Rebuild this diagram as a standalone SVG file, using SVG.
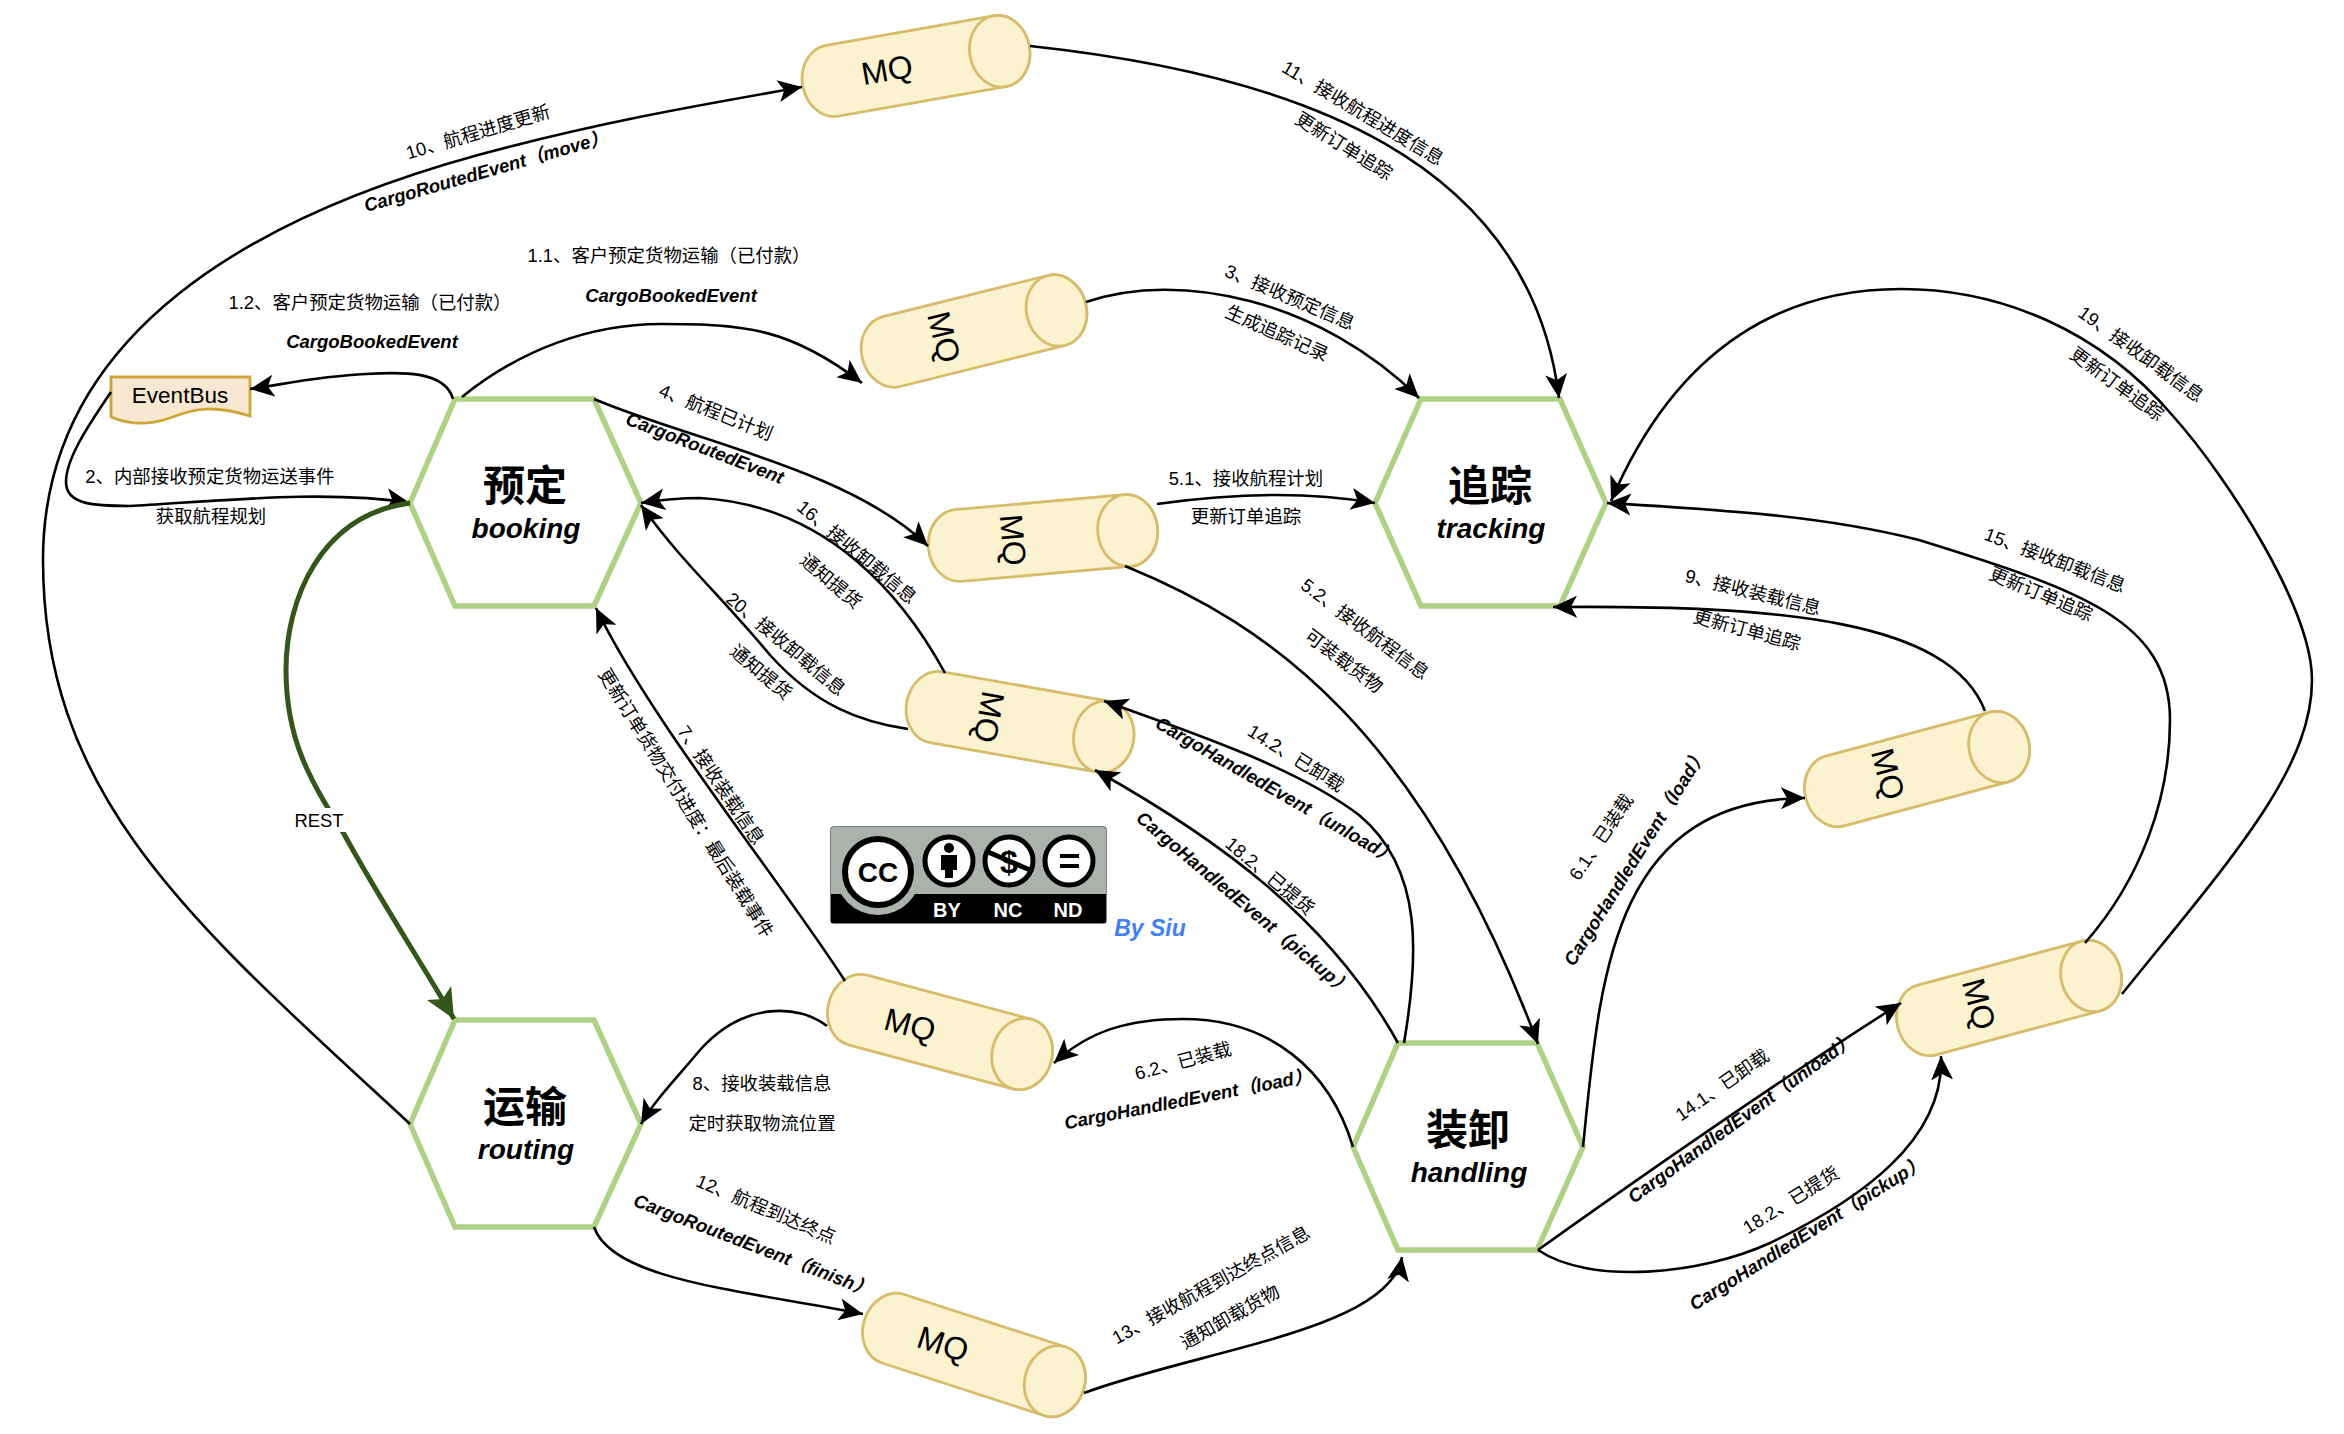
<svg xmlns="http://www.w3.org/2000/svg" width="2344" height="1434" viewBox="0 0 2344 1434">
<style>
text{font-family:"Liberation Sans","Noto Sans CJK SC",sans-serif;fill:#000;text-anchor:middle;dominant-baseline:central}
.lb{font-size:18.4px}
.ev{font-size:18.5px;font-weight:bold;font-style:italic}
.hex{fill:#fff;stroke:#AFD185;stroke-width:5.5;stroke-linejoin:miter}
.t1{font-size:42px;font-weight:bold;font-family:"Noto Sans CJK SC",sans-serif}
.t2{font-size:28px;font-weight:bold;font-style:italic;dominant-baseline:alphabetic}
.mq{font-size:32px}
.cyl{fill:#FBF2D0;stroke:#D6BC6B;stroke-width:2.8}
.c{fill:none;stroke:#000;stroke-width:2.6;marker-end:url(#ah)}
.g{fill:none;stroke:#34561A;stroke-width:5;marker-end:url(#ag)}
.w{font-size:20px;font-weight:bold;fill:#fff;dominant-baseline:alphabetic}
.ci{fill:#fff;stroke:#000;stroke-width:5}
</style>
<defs>
<marker id="ah" markerUnits="userSpaceOnUse" markerWidth="24" markerHeight="24" viewBox="0 0 24 24" refX="24" refY="12" orient="auto"><path d="M24,12 L0,23 L6,12 L0,1 Z" fill="#000"/></marker>
<marker id="ag" markerUnits="userSpaceOnUse" markerWidth="30" markerHeight="30" viewBox="0 0 30 30" refX="30" refY="15" orient="auto"><path d="M30,15 L0,29 L7,15 L0,1 Z" fill="#34561A"/></marker>
<g id="cylinder"><path class="cyl" d="M-85,-36 L85,-36 A30,36 0 0 1 85,36 L-85,36 A30,36 0 0 1 -85,-36 Z"/><ellipse class="cyl" cx="85" cy="0" rx="30" ry="36"/></g>
</defs>
<g id="booking"><polygon class="hex" points="410,503 455,399 594,399 641,503 594,606 455,606"/><text class="t1" x="525" y="482">预定</text><text class="t2" x="526" y="538">booking</text></g>
<g id="tracking"><polygon class="hex" points="1375,503 1421,399 1560,399 1606,503 1560,606 1421,606"/><text class="t1" x="1490" y="482">追踪</text><text class="t2" x="1491" y="538">tracking</text></g>
<g id="routing"><polygon class="hex" points="410,1124 455,1020 594,1020 641,1124 594,1227 455,1227"/><text class="t1" x="525" y="1103">运输</text><text class="t2" x="526" y="1159">routing</text></g>
<g id="handling"><polygon class="hex" points="1353,1147 1398,1043 1537,1043 1583,1147 1537,1250 1398,1250"/><text class="t1" x="1468" y="1126">装卸</text><text class="t2" x="1469" y="1182">handling</text></g>
<g id="eventbus"><path d="M111,377 H250 V416 C215,405 195,408 170,418 C150,425 130,425 111,417 Z" fill="#F8E8D2" stroke="#CFA536" stroke-width="2.8"/><text x="180" y="395" font-size="22.5">EventBus</text></g>
<g id="mq1"><use href="#cylinder" transform="translate(916,66) rotate(-10)"/><text class="mq" x="887" y="70" transform="rotate(-10 887 70)">MQ</text></g>
<g id="mq2"><use href="#cylinder" transform="translate(974,331) rotate(-14)"/><text class="mq" x="944" y="337" transform="rotate(76 944 337)">MQ</text></g>
<g id="mq3"><use href="#cylinder" transform="translate(1043,538) rotate(-5)"/><text class="mq" x="1013" y="540" transform="rotate(85 1013 540)">MQ</text></g>
<g id="mq4"><use href="#cylinder" transform="translate(1020,722) rotate(10)"/><text class="mq" x="989" y="717" transform="rotate(100 989 717)">MQ</text></g>
<g id="mq5"><use href="#cylinder" transform="translate(940,1032) rotate(15)"/><text class="mq" x="910" y="1025" transform="rotate(15 910 1025)">MQ</text></g>
<g id="mq6"><use href="#cylinder" transform="translate(974,1355) rotate(18)"/><text class="mq" x="943" y="1344" transform="rotate(18 943 1344)">MQ</text></g>
<g id="mq7"><use href="#cylinder" transform="translate(1917,769) rotate(-15)"/><text class="mq" x="1888" y="774" transform="rotate(75 1888 774)">MQ</text></g>
<g id="mq8"><use href="#cylinder" transform="translate(2009,998) rotate(-15)"/><text class="mq" x="1979" y="1004" transform="rotate(75 1979 1004)">MQ</text></g>
<g id="connectors">
<path class="c" d="M410,1124 C195,925 43,800 43,560 C43,330 260,215 478,155 C600,122 700,105 802,87"/>
<path class="c" d="M453,399 C445,370 400,372 366,374 C320,376 285,384 250,389"/>
<path class="c" d="M462,397 C520,350 590,324 661,324 C745,324 790,328 862,383"/>
<path class="c" d="M111,392 C85,430 66,460 66,482 C66,505 95,506 130,506 C230,500 330,490 410,503"/>
<path class="g" d="M410,503 C320,515 286,600 286,670 C286,740 310,780 344,834 C380,900 420,960 454,1019"/>
<path class="c" d="M594,399 C690,440 850,470 928,546"/>
<path class="c" d="M945,673 C905,600 830,505 700,498 C680,498 660,500 641,503"/>
<path class="c" d="M908,729 C860,722 815,705 770,655 C720,595 680,560 641,505"/>
<path class="c" d="M845,981 C780,880 650,720 596,608"/>
<path class="c" d="M827,1026 C800,1005 745,1000 700,1050 C675,1080 655,1100 641,1124"/>
<path class="c" d="M1353,1147 C1330,1070 1270,1019 1183,1019 C1130,1019 1090,1030 1054,1063"/>
<path class="c" d="M594,1227 C612,1280 740,1290 863,1314"/>
<path class="c" d="M1084,1393 C1200,1350 1390,1330 1402,1257"/>
<path class="c" d="M1030,46 C1300,75 1530,160 1559,398"/>
<path class="c" d="M1086,302 C1180,270 1320,300 1419,398"/>
<path class="c" d="M1157,504 C1220,495 1300,490 1375,503"/>
<path class="c" d="M1125,566 C1270,625 1420,730 1538,1044"/>
<path class="c" d="M1404,1043 C1418,960 1425,870 1359,815 C1300,770 1200,735 1104,701"/>
<path class="c" d="M1398,1043 C1330,920 1220,840 1095,770"/>
<path class="c" d="M1583,1147 C1600,980 1610,800 1805,798"/>
<path class="c" d="M1985,711 C1950,620 1780,605 1553,607"/>
<path class="c" d="M1538,1250 C1650,1170 1780,1080 1901,1003"/>
<path class="c" d="M1538,1250 C1590,1285 1700,1275 1770,1243 C1860,1200 1945,1140 1941,1056"/>
<path class="c" d="M2085,943 C2140,880 2170,800 2170,720 C2170,620 2080,590 1919,540 C1820,515 1720,510 1607,503"/>
<path class="c" d="M2122,994 C2230,860 2312,770 2312,680 C2312,610 2230,480 2173,416 C2100,330 2000,289 1901,289 C1790,289 1680,340 1611,501"/>
</g>
<g id="labels">
<text class="lb" x="478" y="132" transform="rotate(-16.5 478 132)">10、航程进度更新</text>
<text class="ev" x="486" y="171" transform="rotate(-16 486 171)">CargoRoutedEvent（move）</text>
<text class="lb" x="669" y="255">1.1、客户预定货物运输（已付款）</text>
<text class="ev" x="671" y="295">CargoBookedEvent</text>
<text class="lb" x="370" y="302">1.2、客户预定货物运输（已付款）</text>
<text class="ev" x="372" y="341">CargoBookedEvent</text>
<text class="lb" x="210" y="476">2、内部接收预定货物运送事件</text>
<text class="lb" x="211" y="516">获取航程规划</text>
<text class="lb" x="716" y="412" transform="rotate(22 716 412)">4、航程已计划</text>
<text class="ev" x="705" y="448" transform="rotate(21 705 448)">CargoRoutedEvent</text>
<text class="lb" x="857" y="552" transform="rotate(40 857 552)">16、接收卸载信息</text>
<text class="lb" x="831" y="581" transform="rotate(40 831 581)">通知提货</text>
<text class="lb" x="786" y="644" transform="rotate(40 786 644)">20、接收卸载信息</text>
<text class="lb" x="761" y="672" transform="rotate(40 761 672)">通知提货</text>
<text class="lb" x="686" y="803" transform="rotate(58 686 803)">更新订单货物交付进度：最后装载事件</text>
<text class="lb" x="721" y="785" transform="rotate(56 721 785)">7、接收装载信息</text>
<rect x="292" y="808" width="54" height="24" fill="#fff"/><text class="lb" x="319" y="820">REST</text>
<text class="lb" x="1290" y="297" transform="rotate(23 1290 297)">3、接收预定信息</text>
<text class="lb" x="1277" y="333" transform="rotate(24 1277 333)">生成追踪记录</text>
<text class="lb" x="1363" y="113" transform="rotate(31 1363 113)">11、接收航程进度信息</text>
<text class="lb" x="1344" y="146" transform="rotate(32 1344 146)">更新订单追踪</text>
<text class="lb" x="1246" y="478">5.1、接收航程计划</text>
<text class="lb" x="1246" y="516">更新订单追踪</text>
<text class="lb" x="1365" y="629" transform="rotate(37 1365 629)">5.2、接收航程信息</text>
<text class="lb" x="1344" y="661" transform="rotate(37 1344 661)">可装载货物</text>
<text class="lb" x="1753" y="592" transform="rotate(14 1753 592)">9、接收装载信息</text>
<text class="lb" x="1747" y="630" transform="rotate(15 1747 630)">更新订单追踪</text>
<text class="lb" x="2055" y="560" transform="rotate(21 2055 560)">15、接收卸载信息</text>
<text class="lb" x="2041" y="594" transform="rotate(23 2041 594)">更新订单追踪</text>
<text class="lb" x="2141" y="354" transform="rotate(36 2141 354)">19、接收卸载信息</text>
<text class="lb" x="2117" y="384" transform="rotate(36 2117 384)">更新订单追踪</text>
<text class="lb" x="762" y="1083">8、接收装载信息</text>
<text class="lb" x="762" y="1123">定时获取物流位置</text>
<text class="lb" x="766" y="1209" transform="rotate(23 766 1209)">12、航程到达终点</text>
<text class="ev" x="753" y="1245" transform="rotate(21 753 1245)">CargoRoutedEvent（finish）</text>
<text class="lb" x="1183" y="1061" transform="rotate(-15 1183 1061)">6.2、已装载</text>
<text class="ev" x="1188" y="1099" transform="rotate(-11 1188 1099)">CargoHandledEvent（load）</text>
<text class="lb" x="1211" y="1285" transform="rotate(-29 1211 1285)">13、接收航程到达终点信息</text>
<text class="lb" x="1230" y="1317" transform="rotate(-29.5 1230 1317)">通知卸载货物</text>
<text class="lb" x="1296" y="758" transform="rotate(32 1296 758)">14.2、已卸载</text>
<text class="ev" x="1276" y="790" transform="rotate(30 1276 790)">CargoHandledEvent（unload）</text>
<text class="lb" x="1270" y="876" transform="rotate(40 1270 876)">18.2、已提货</text>
<text class="ev" x="1244" y="903" transform="rotate(40 1244 903)">CargoHandledEvent（pickup）</text>
<text class="lb" x="1601" y="837" transform="rotate(-56 1601 837)">6.1、已装载</text>
<text class="ev" x="1635" y="857" transform="rotate(-58 1635 857)">CargoHandledEvent（load）</text>
<text class="lb" x="1722" y="1085" transform="rotate(-35 1722 1085)">14.1、已卸载</text>
<text class="ev" x="1741" y="1118" transform="rotate(-36 1741 1118)">CargoHandledEvent（unload）</text>
<text class="lb" x="1791" y="1200" transform="rotate(-32 1791 1200)">18.2、已提货</text>
<text class="ev" x="1807" y="1233" transform="rotate(-32 1807 1233)">CargoHandledEvent（pickup）</text>
</g>
<g id="cc-badge">
<rect x="831" y="827" width="275" height="96" rx="3" fill="#AAB2AB" stroke="#555" stroke-width="1.5"/>
<path d="M831,894 H1106 V923 H831 Z" fill="#000"/>
<circle cx="878" cy="872" r="43" fill="#AAB2AB"/>
<path d="M831,830 a3,3 0 0 1 3,-3 H1103 a3,3 0 0 1 3,3 V894 H831 Z" fill="#AAB2AB"/>
<circle cx="878" cy="872" r="33" fill="#fff" stroke="#000" stroke-width="6"/>
<text x="878" y="872" font-size="28" font-weight="bold">CC</text>
<circle class="ci" cx="949" cy="861" r="24"/>
<circle cx="949" cy="848" r="5"/><path d="M941,855 H957 V870 H953 V878 H945 V870 H941 Z"/>
<circle class="ci" cx="1009" cy="861" r="24"/>
<text x="1009" y="862" font-size="32" font-weight="bold">$</text><path d="M988,852 L1030,870" stroke="#000" stroke-width="5" fill="none"/>
<circle class="ci" cx="1069" cy="861" r="24"/>
<path d="M1060,854 H1079 V858 H1060 Z M1060,864 H1079 V868 H1060 Z"/>
<text class="w" x="947" y="917">BY</text><text class="w" x="1008" y="917">NC</text><text class="w" x="1068" y="917">ND</text>
<text x="1150" y="928" font-size="23" font-weight="bold" font-style="italic" style="fill:#4080F0">By Siu</text>
</g>
</svg>
